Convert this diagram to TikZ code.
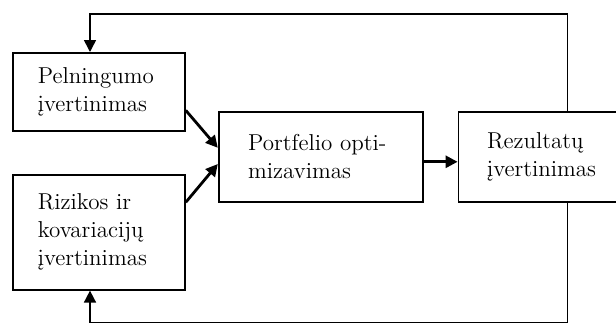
\documentclass[tikz,border=0pt]{standalone}
\usepackage{fontspec}
\usepackage{tikz}
\usetikzlibrary{arrows.meta,positioning,calc}

\begin{document}
\begin{tikzpicture}[
    box/.style={draw, line width=0.9pt, align=left, font=\fontsize{11.5}{14}\selectfont},
    arr/.style={-{Triangle[length=6pt,width=6pt]}, line width=1.4pt},
    fb/.style={-{Triangle[length=6pt,width=6pt]}, line width=0.8pt}
]
    \useasboundingbox (0,0) rectangle (308pt,-161pt);

    % inputs
    \node[box, minimum width=86pt, minimum height=39pt, text width=61pt,
          anchor=north west] (pel) at (6pt,-26pt) {Pelningumo\\įvertinimas};
    \node[box, below=21pt of pel, minimum width=86pt, minimum height=57.5pt,
          text width=61pt] (riz) {Rizikos ir\\kovariacijų\\įvertinimas};

    \coordinate (gap) at ($(pel.south east)!0.5!(riz.north east)$);
    \node[box, right=16pt of gap, yshift=-2pt, minimum width=102pt,
          minimum height=45pt, text width=72.5pt] (port) {Portfelio opti-\\mizavimas};
    \node[box, right=17pt of port, minimum width=80pt, minimum height=45pt,
          text width=51.5pt] (rez) {Rezultatų\\įvertinimas};

    \draw[arr] (pel.-12) -- (port.175);
    \draw[arr] (riz.19) -- (port.184);
    \draw[arr] ([yshift=-2.5pt]port.east) -- ([yshift=-2.5pt]rez.west);

    % feedback
    \coordinate (up) at ($(rez.north west)+(55pt,0)$);
    \coordinate (dn) at ($(rez.south west)+(55pt,0)$);
    \coordinate (pelin) at ($(pel.north west)+(39pt,0)$);
    \coordinate (rizin) at ($(riz.south west)+(39pt,0)$);
    \draw[fb] (up) -- ++(0,48.5pt) -| (pelin);
    \draw[fb] (dn) -- ++(0,-60pt) -| (rizin);
\end{tikzpicture}
\end{document}
